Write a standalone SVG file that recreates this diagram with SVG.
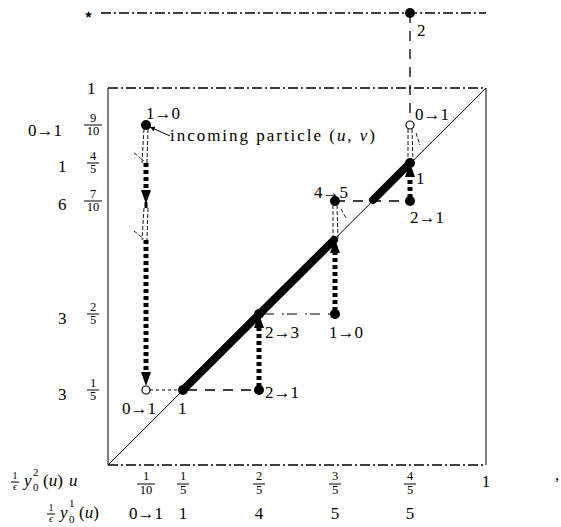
<svg xmlns="http://www.w3.org/2000/svg" width="561" height="527" viewBox="0 0 561 527" font-family="Liberation Serif, DejaVu Serif, Times New Roman, serif">
<style>
text{font-family:"Liberation Serif","DejaVu Serif",serif;font-size:17px;fill:#000}
.sm{font-size:12.5px}
.ss{font-size:11px}
.tn{font-size:10px}
.dd{fill:none;stroke:#000;stroke-width:1.3;stroke-dasharray:10 3 2 3}
.thin{fill:none;stroke:#000;stroke-width:1}
.wig{fill:none;stroke:#000;stroke-width:0.9;stroke-dasharray:4 2}
.dot{fill:none;stroke:#000;stroke-width:5;stroke-dasharray:4 3}
.thick{fill:none;stroke:#000;stroke-width:8;stroke-linecap:round}
.dash{fill:none;stroke:#000;stroke-width:1.3;stroke-dasharray:10 8}
.bar{stroke:#000;stroke-width:1}
</style>
<defs>
<marker id="ah" viewBox="0 0 10 10" refX="10" refY="5" markerWidth="5" markerHeight="5" orient="auto">
<path d="M0,0 L10,5 L0,10 z" fill="#000"/>
</marker>
</defs>
<g id="frame">
<line class="dd" x1="101" y1="13" x2="486" y2="13"/>
<line class="dd" x1="108" y1="88" x2="486" y2="88"/>
<line class="dd" x1="108" y1="465" x2="486" y2="465"/>
<line class="thin" x1="108" y1="88" x2="108" y2="465"/>
<line class="thin" x1="486" y1="88" x2="486" y2="465"/>
<line class="thin" x1="108" y1="465" x2="486" y2="88"/>
</g>
<g id="connectors">
<line class="dash" x1="410" y1="13" x2="410" y2="121" stroke-dasharray="14 10"/>
<line class="thick" x1="183" y1="390" x2="334" y2="240"/>
<line class="thick" x1="373" y1="200" x2="410" y2="163"/>
<path class="wig" d="M144,129 L142,163 M148,129 L147,163 M134,153 L144,161"/>
<line class="dot" x1="146" y1="163" x2="146" y2="192"/>
<path d="M141,190 L151,190 L146,204 z" fill="#000"/>
<line x1="146" y1="202" x2="146" y2="208" stroke="#000" stroke-width="3"/>
<path class="wig" d="M144,208 L142,240 M148,208 L147,240 M134,231 L144,239"/>
<line class="dot" x1="146" y1="240" x2="146" y2="374"/>
<path d="M141,372 L151,372 L146,386 z" fill="#000"/>
<line class="dot" x1="259" y1="387" x2="259" y2="326"/>
<path d="M254,328 L264,328 L259,314 z" fill="#000"/>
<line class="dot" x1="335" y1="311" x2="335" y2="251"/>
<path d="M330,253 L340,253 L335,239 z" fill="#000"/>
<line class="dot" x1="410" y1="198" x2="410" y2="176"/>
<path d="M405,177 L415,177 L410,163 z" fill="#000"/>
<line class="thin" x1="150" y1="390" x2="183" y2="390" stroke-dasharray="3 3" stroke-width="1.3"/>
<line class="dash" x1="187" y1="390" x2="259" y2="390"/>
<line class="thin" x1="259" y1="314" x2="335" y2="314" stroke-dasharray="2 3 10 8" stroke-width="1.3"/>
<line class="dash" x1="335" y1="201" x2="410" y2="201" stroke-dasharray="10 12"/>
<path class="wig" d="M408,129 L408,163 M412,129 L413,163 M416,133 L420,145"/>
<path class="wig" d="M333,205 L333,239 M337,205 L338,239 M341,209 L346,218"/>
<line class="thin" x1="170" y1="136" x2="150" y2="127" marker-end="url(#ah)"/>
</g>
<g id="points">
<circle cx="410" cy="13" r="5"/>
<circle cx="146" cy="125" r="5"/>
<circle cx="146" cy="390" r="4" fill="#fff" stroke="#000" stroke-width="1.2"/>
<circle cx="410" cy="125" r="4" fill="#fff" stroke="#000" stroke-width="1.2"/>
<circle cx="410" cy="163" r="5"/>
<circle cx="410" cy="201" r="5"/>
<circle cx="335" cy="201" r="5"/>
<circle cx="335" cy="314" r="5"/>
<circle cx="259" cy="314" r="5"/>
<circle cx="259" cy="390" r="5"/>
<circle cx="183" cy="390" r="5"/>
</g>
<g id="labels">
<text x="84" y="18" style="font-family:'DejaVu Sans',sans-serif;font-size:10px">★</text>
<text x="417" y="36">2</text>
<text x="87" y="94">1</text>
<text x="146" y="119">1→0</text>
<text x="170" y="141" textLength="205">incoming particle (<tspan font-style="italic">u</tspan>, <tspan font-style="italic">v</tspan>)</text>
<text x="415" y="120">0→1</text>
<text x="416" y="184">1</text>
<text x="410" y="223">2→1</text>
<text x="314" y="198">4→5</text>
<text x="265" y="338">2→3</text>
<text x="329" y="338">1→0</text>
<text x="265" y="398">2→1</text>
<text x="122" y="414">0→1</text>
<text x="178" y="414">1</text>
</g>
<g id="leftaxis">
<text x="28" y="136">0→1</text>
<text x="93" y="122" text-anchor="middle" class="sm">9</text>
<line class="bar" x1="84" y1="125" x2="102" y2="125"/>
<text x="93" y="135" text-anchor="middle" class="sm">10</text>
<text x="58" y="172">1</text>
<text x="93" y="160" text-anchor="middle" class="sm">4</text>
<line class="bar" x1="87" y1="163" x2="99" y2="163"/>
<text x="93" y="173" text-anchor="middle" class="sm">5</text>
<text x="58" y="210">6</text>
<text x="93" y="198" text-anchor="middle" class="sm">7</text>
<line class="bar" x1="84" y1="201" x2="102" y2="201"/>
<text x="93" y="211" text-anchor="middle" class="sm">10</text>
<text x="58" y="324">3</text>
<text x="93" y="311" text-anchor="middle" class="sm">2</text>
<line class="bar" x1="87" y1="314" x2="99" y2="314"/>
<text x="93" y="324" text-anchor="middle" class="sm">5</text>
<text x="58" y="400">3</text>
<text x="93" y="387" text-anchor="middle" class="sm">1</text>
<line class="bar" x1="87" y1="390" x2="99" y2="390"/>
<text x="93" y="400" text-anchor="middle" class="sm">5</text>
</g>
<g id="bottomaxis">
<text x="15" y="479" text-anchor="middle" class="tn">1</text>
<line class="bar" x1="11" y1="482" x2="19" y2="482"/>
<text x="15" y="490" text-anchor="middle" class="tn" font-style="italic">ϵ</text>
<text x="24" y="486" font-style="italic">y</text>
<text x="33" y="491" class="ss">0</text>
<text x="33" y="476" class="ss">2</text>
<text x="43" y="486">(<tspan font-style="italic">u</tspan>)</text>
<text x="69" y="486" font-style="italic">u</text>
<text x="146" y="480" text-anchor="middle" class="sm">1</text>
<line class="bar" x1="137" y1="484" x2="155" y2="484"/>
<text x="146" y="494" text-anchor="middle" class="sm">10</text>
<text x="183" y="480" text-anchor="middle" class="sm">1</text>
<line class="bar" x1="177" y1="484" x2="189" y2="484"/>
<text x="183" y="494" text-anchor="middle" class="sm">5</text>
<text x="259" y="480" text-anchor="middle" class="sm">2</text>
<line class="bar" x1="253" y1="484" x2="265" y2="484"/>
<text x="259" y="494" text-anchor="middle" class="sm">5</text>
<text x="335" y="480" text-anchor="middle" class="sm">3</text>
<line class="bar" x1="329" y1="484" x2="341" y2="484"/>
<text x="335" y="494" text-anchor="middle" class="sm">5</text>
<text x="410" y="480" text-anchor="middle" class="sm">4</text>
<line class="bar" x1="404" y1="484" x2="416" y2="484"/>
<text x="410" y="494" text-anchor="middle" class="sm">5</text>
<text x="486" y="487" text-anchor="middle">1</text>
<text x="555" y="480">,</text>
<text x="51" y="511" text-anchor="middle" class="tn">1</text>
<line class="bar" x1="47" y1="514" x2="55" y2="514"/>
<text x="51" y="522" text-anchor="middle" class="tn" font-style="italic">ϵ</text>
<text x="60" y="518" font-style="italic">y</text>
<text x="69" y="523" class="ss">0</text>
<text x="69" y="507" class="ss">1</text>
<text x="79" y="518">(<tspan font-style="italic">u</tspan>)</text>
<text x="146" y="519" text-anchor="middle">0→1</text>
<text x="183" y="519" text-anchor="middle">1</text>
<text x="259" y="519" text-anchor="middle">4</text>
<text x="335" y="519" text-anchor="middle">5</text>
<text x="410" y="519" text-anchor="middle">5</text>
</g>
</svg>
